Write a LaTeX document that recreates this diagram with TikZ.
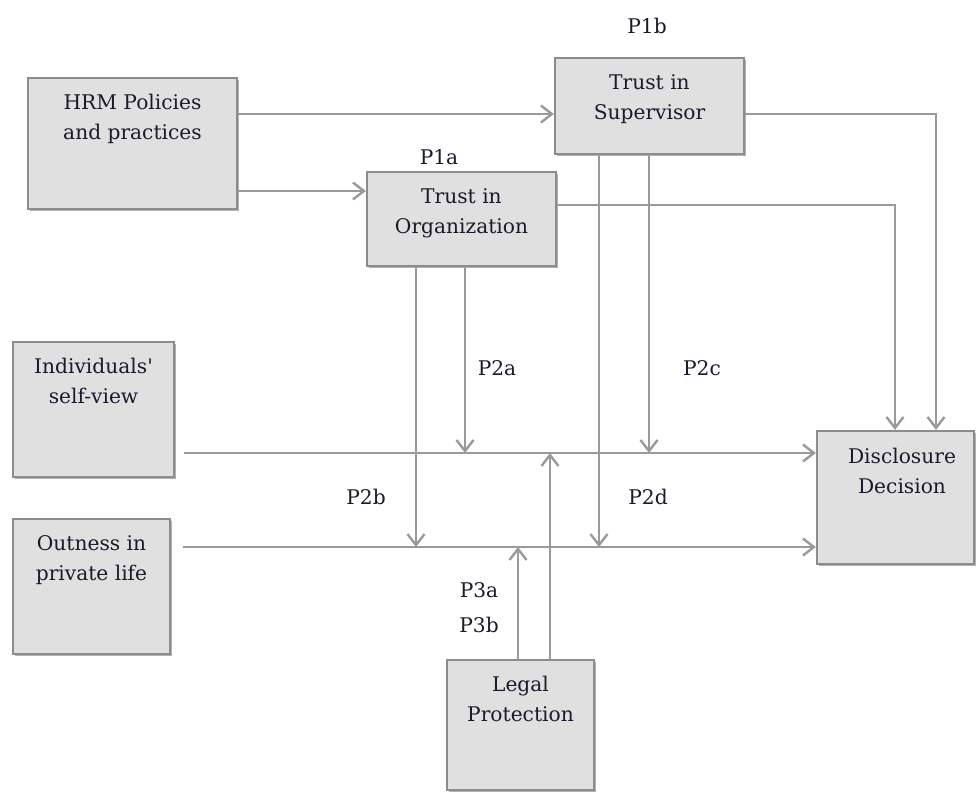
\documentclass[tikz,border=0pt]{standalone}
\usepackage{fontspec}
\setmainfont{DejaVu Serif}
\usetikzlibrary{arrows.meta,fit,shadows}
\definecolor{boxfill}{HTML}{E0E0E0}
\definecolor{boxline}{HTML}{8C8C8C}
\definecolor{conn}{HTML}{9A9A9A}
\definecolor{ink}{HTML}{1A1A2A}
\begin{document}
\begin{tikzpicture}[x=0.5pt,y=-0.5pt,
 box/.style={draw=boxline, line width=1.1pt, fill=boxfill, inner sep=0pt,
   drop shadow={shadow xshift=1pt, shadow yshift=-1pt, fill=black, opacity=0.3}},
 btext/.style={anchor=north, inner sep=0pt, align=center, font=\fontsize{10.1}{15}\selectfont, text=ink},
 lab/.style={inner sep=0pt, font=\fontsize{10.1}{15}\selectfont, text=ink},
 arr/.style={draw=conn, line width=1.2pt, -{Straight Barb[length=5.5pt,width=8.5pt]}}]
\fill[white] (0,0) rectangle (976,794);
\useasboundingbox (0,0) rectangle (976,794);
% boxes
\node[box, fit={(28,78)(237,209)}] (hrm) {};
\node[box, fit={(555,58)(744,154)}] (sup) {};
\node[box, fit={(367,172)(556,266)}] (org) {};
\node[box, fit={(13,342)(174,477)}] (ind) {};
\node[box, fit={(13,519)(170,654)}] (out) {};
\node[box, fit={(817,431)(974,564)}] (dis) {};
\node[box, fit={(447,660)(594,790)}] (leg) {};
% box texts
\node[btext] (hrmT) at ([yshift=-8.5pt]hrm.north) {HRM Policies\\and practices};
\node[btext] (supT) at ([yshift=-8.5pt]sup.north) {Trust in\\Supervisor};
\node[btext] (orgT) at ([yshift=-8.5pt]org.north) {Trust in\\Organization};
\node[btext] (indT) at ([yshift=-8.5pt]ind.north) {Individuals\textquotesingle\\self-view};
\node[btext] (outT) at ([yshift=-8.5pt]out.north) {Outness in\\private life};
\node[btext] (disT) at (902,448) {Disclosure\\Decision};
\node[btext] (legT) at ([yshift=-8.5pt]leg.north) {Legal\\Protection};
% helper coordinates
\coordinate (y1) at (0,114);
\coordinate (y2) at (0,191);
\coordinate (y3) at (0,205);
\coordinate (lA) at (0,453);
\coordinate (lB) at (0,547);
\coordinate (xs) at (936,0);
\coordinate (xo) at (895,0);
\coordinate (p2a) at (465,453);
\coordinate (p2b) at (416,547);
\coordinate (p2c) at (649,453);
\coordinate (p2d) at (599,547);
\coordinate (p3a) at (518,547);
\coordinate (p3b) at (550,453);
% connectors
\draw[arr] (hrm.east |- y1) -- (sup.west |- y1);
\draw[arr] (hrm.east |- y2) -- (org.west |- y2);
\draw[arr] (sup.east |- y1) -| (dis.north -| xs);
\draw[arr] (org.east |- y3) -| (dis.north -| xo);
\draw[arr] ([xshift=4.5pt]ind.east |- lA) -- (dis.west |- lA);
\draw[arr] ([xshift=6pt]out.east |- lB) -- (dis.west |- lB);
\draw[arr] (org.south -| p2a) -- (p2a);
\draw[arr] (org.south -| p2b) -- (p2b);
\draw[arr] (sup.south -| p2c) -- (p2c);
\draw[arr] (sup.south -| p2d) -- (p2d);
\draw[arr] (leg.north -| p3a) -- (p3a);
\draw[arr] (leg.north -| p3b) -- (p3b);
% labels
\node[lab] (l1b) at (647,26) {P1b};
\node[lab] (l1a) at (439,157) {P1a};
\node[lab] (l2a) at (497,368) {P2a};
\node[lab] (l2c) at (702,368) {P2c};
\node[lab] (l2b) at (366,497) {P2b};
\node[lab] (l2d) at (648,497) {P2d};
\node[lab] (l3a) at (479,590) {P3a};
\node[lab] (l3b) at (479,625) {P3b};
\end{tikzpicture}
\end{document}
